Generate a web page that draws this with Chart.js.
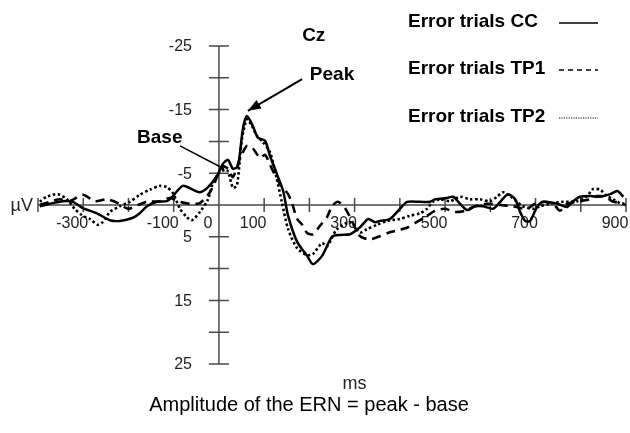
<!DOCTYPE html>
<html>
<head>
<meta charset="utf-8">
<script src="https://cdn.jsdelivr.net/npm/chart.js@4/dist/chart.umd.min.js"></script>
<style>
html,body{margin:0;padding:0;background:#fff;}
#wrap{width:630px;height:433px;position:relative;}
</style>
</head>
<body>
<div id="wrap"><canvas id="c" width="630" height="433"></canvas></div>
<script>
// ---- Data (ms, µV) ----
const ccTime = [-396,-374,-345,-323,-301,-270,-241,-219,-190,-175,-159,-137,-115,-102,-80,-60,-42,-24,-4,9,20,31,42,53,62,75,86,102,113,128,142,153,173,195,208,228,250,268,290,312,330,345,356,378,400,416,445,467,478,504,518,533,549,566,584,606,622,639,655,666,677,688,704,717,748,770,783,799,821,843,865,881,894];
const ccValues = [0.2,-0.2,-0.6,-0.5,0.5,1.3,2.4,2.5,2.0,1.3,0.2,-0.5,-0.6,-1.4,-3.0,-2.5,-2.0,-2.8,-4.6,-6.5,-7.1,-5.7,-6.1,-12.0,-14.0,-12.4,-10.6,-10.1,-7.7,-4.9,-2.2,1.7,5.8,8.0,9.3,8.0,5.0,4.7,4.6,3.5,2.2,2.7,2.5,2.2,0.6,-0.5,-0.5,-0.5,-0.9,-1.1,-1.3,-0.2,0.8,0.2,0.2,0.6,-0.5,-1.7,-0.9,1.1,2.5,2.5,0.2,-0.5,-0.2,0.3,-0.6,-1.3,-1.4,-1.3,-1.7,-2.2,-1.3];

const tp1Time = [-396,-374,-352,-330,-301,-274,-248,-223,-201,-179,-159,-131,-108,-86,-64,-42,-20,-4,9,20,31,46,62,75,91,102,117,135,153,162,173,184,195,208,223,239,250,263,279,294,312,334,356,378,400,418,434,456,478,500,522,544,566,593,622,650,681,699,721,739,754,770,792,821,836,854,869,887,900];
const tp1Values = [0.0,-0.5,-0.9,-0.6,-1.6,-0.6,-0.9,-0.3,0.6,0.0,-0.5,-0.6,-1.1,-0.5,-0.2,-0.3,-2.0,-4.4,-6.1,-5.7,-4.4,-7.2,-9.3,-8.9,-7.4,-7.9,-5.7,-3.3,-1.7,-0.2,2.2,3.1,4.4,4.6,3.3,1.9,0.2,-0.5,0.5,2.5,4.9,5.4,4.9,4.3,3.9,3.5,2.8,1.9,0.9,0.6,1.1,0.9,0.2,-0.2,0.0,0.2,0.6,-0.2,-0.5,-0.2,0.9,-0.2,-0.5,-0.9,-1.4,-1.3,-0.6,-0.3,0.0];

const tp2Time = [-396,-381,-356,-336,-319,-301,-285,-268,-257,-241,-219,-197,-175,-153,-131,-115,-102,-86,-71,-60,-42,-24,-13,2,18,31,40,51,62,73,84,97,113,128,139,153,173,195,208,228,239,261,290,312,327,350,372,400,422,445,460,473,489,511,533,555,577,599,615,628,644,659,672,695,710,732,761,792,814,827,843,858,872,887,896];
const tp2Values = [-0.5,-1.3,-1.7,-0.9,0.6,1.7,2.2,3.1,2.7,1.1,0.2,-0.5,-1.6,-2.4,-3.0,-2.8,-1.9,0.6,1.9,2.4,1.1,-0.9,-3.5,-5.2,-5.5,-2.7,-3.1,-10.4,-13.5,-12.4,-10.9,-9.9,-8.3,-4.1,-0.5,3.8,6.8,7.9,7.7,6.0,6.5,3.8,2.7,4.3,3.8,3.1,2.5,2.2,1.7,1.3,0.6,-0.5,-0.9,-0.6,-1.3,-0.9,-0.9,-0.6,-1.3,-2.0,-1.4,-0.5,0.2,0.6,0.2,-0.2,-0.5,-0.6,-1.4,-2.5,-2.4,-1.4,-0.9,-0.3,-0.2];

const seriesNames = ['Error trials CC', 'Error trials TP1', 'Error trials TP2'];

// ---- Ticks ----
const xTickMarks = [-400,-300,-200,-100,0,100,200,300,400,500,600,700,800,900];
const xTickLabels = [-300,-100,0,100,300,500,700,900];
const yTickMarks = [-25,-20,-15,-10,-5,5,10,15,20,25];
const yTickLabels = [-25,-15,-5,5,15,25];

const toPts = (t, v) => t.map((x, i) => ({x: x, y: v[i]}));

const FONT = '"Liberation Sans", Arial, Helvetica, sans-serif';
const AXIS_COLOR = '#4a4a4a';

const axesPlugin = {
  id: 'centerAxes',
  beforeDatasetsDraw(chart) {
    const {ctx, scales: {x, y}} = chart;
    const x0 = x.getPixelForValue(0), y0 = y.getPixelForValue(0);
    ctx.save();
    ctx.strokeStyle = AXIS_COLOR;
    ctx.lineWidth = 1.5;
    ctx.beginPath();
    ctx.moveTo(x.getPixelForValue(-400), y0);
    ctx.lineTo(x.getPixelForValue(900), y0);
    ctx.moveTo(x0, y.getPixelForValue(-25));
    ctx.lineTo(x0, y.getPixelForValue(25));
    xTickMarks.forEach(v => { const p = x.getPixelForValue(v); ctx.moveTo(p, y0 - 7); ctx.lineTo(p, y0 + 7); });
    yTickMarks.forEach(v => { const p = y.getPixelForValue(v); ctx.moveTo(x0 - 10, p); ctx.lineTo(x0 + 10, p); });
    ctx.stroke();

    ctx.fillStyle = '#222';
    ctx.font = '16px ' + FONT;
    ctx.textBaseline = 'middle';
    ctx.textAlign = 'center';
    xTickLabels.forEach(v => ctx.fillText(String(v), x.getPixelForValue(v) - 11, y0 + 19));
    ctx.textAlign = 'right';
    yTickLabels.forEach(v => ctx.fillText(String(v), x0 - 27, y.getPixelForValue(v) + 1));

    ctx.font = '18px ' + FONT;
    ctx.textAlign = 'right';
    ctx.fillText('\u00B5V', x.getPixelForValue(-400) - 5, y0 + 1);
    ctx.textAlign = 'center';
    ctx.fillText('ms', x.getPixelForValue(300), y.getPixelForValue(25) + 20);
    ctx.restore();
  }
};

function arrow(ctx, x1, y1, x2, y2, head) {
  ctx.beginPath();
  ctx.moveTo(x1, y1);
  ctx.lineTo(x2, y2);
  ctx.stroke();
  if (head) {
    const a = Math.atan2(y2 - y1, x2 - x1);
    const L = 13, W = 5;
    ctx.beginPath();
    ctx.moveTo(x2, y2);
    ctx.lineTo(x2 - L * Math.cos(a) + W * Math.sin(a), y2 - L * Math.sin(a) - W * Math.cos(a));
    ctx.lineTo(x2 - L * Math.cos(a) - W * Math.sin(a), y2 - L * Math.sin(a) + W * Math.cos(a));
    ctx.closePath();
    ctx.fill();
  }
}

const textPlugin = {
  id: 'annotations',
  afterDraw(chart) {
    const {ctx, scales: {x, y}} = chart;
    ctx.save();
    ctx.fillStyle = '#000';
    ctx.strokeStyle = '#000';
    ctx.font = 'bold 19px ' + FONT;
    ctx.textBaseline = 'middle';
    ctx.textAlign = 'left';
    ctx.fillText('Cz', x.getPixelForValue(184), y.getPixelForValue(-26.6));
    ctx.fillText('Peak', x.getPixelForValue(201), y.getPixelForValue(-20.5));
    ctx.fillText('Base', x.getPixelForValue(-181), y.getPixelForValue(-10.5));
    ctx.lineWidth = 2;
    arrow(ctx, x.getPixelForValue(184), y.getPixelForValue(-19.8), x.getPixelForValue(64), y.getPixelForValue(-14.8), true);
    ctx.lineWidth = 1.5;
    arrow(ctx, x.getPixelForValue(-86), y.getPixelForValue(-9.3), x.getPixelForValue(11), y.getPixelForValue(-5.7), false);

    // legend
    const legY = [22, 69, 117];
    const dashes = [[], [5, 4], [1.2, 1.2]];
    seriesNames.forEach((name, i) => {
      ctx.fillStyle = '#000';
      ctx.font = 'bold 19px ' + FONT;
      ctx.textAlign = 'left';
      ctx.fillText(name, 408, legY[i]);
      ctx.beginPath();
      ctx.setLineDash(dashes[i]);
      ctx.lineWidth = i === 2 ? 1.2 : 1.5;
      ctx.moveTo(559, legY[i] + 1);
      ctx.lineTo(598, legY[i] + 1);
      ctx.stroke();
    });
    ctx.setLineDash([]);

    ctx.font = '20px ' + FONT;
    ctx.textAlign = 'center';
    ctx.fillStyle = '#000';
    ctx.fillText('Amplitude of the ERN = peak - base', 309, 405);
    ctx.restore();
  }
};

new Chart(document.getElementById('c'), {
  type: 'line',
  data: {
    datasets: [
      {label: seriesNames[0], data: toPts(ccTime, ccValues), borderColor: '#000', borderWidth: 2.5, tension: 0.25, pointRadius: 0, fill: false},
      {label: seriesNames[1], data: toPts(tp1Time, tp1Values), borderColor: '#000', borderWidth: 2.6, borderDash: [9, 6], tension: 0.25, pointRadius: 0, fill: false},
      {label: seriesNames[2], data: toPts(tp2Time, tp2Values), borderColor: '#000', borderWidth: 2.6, borderDash: [2.5, 2.5], tension: 0.25, pointRadius: 0, fill: false}
    ]
  },
  options: {
    responsive: false,
    animation: false,
    devicePixelRatio: 1,
    layout: {padding: {left: 38, right: 4, top: 46, bottom: 69}},
    plugins: {legend: {display: false}, tooltip: {enabled: false}},
    scales: {
      x: {type: 'linear', min: -400, max: 900, display: false},
      y: {type: 'linear', min: -25, max: 25, reverse: true, display: false}
    }
  },
  plugins: [axesPlugin, textPlugin]
});
</script>
</body>
</html>
